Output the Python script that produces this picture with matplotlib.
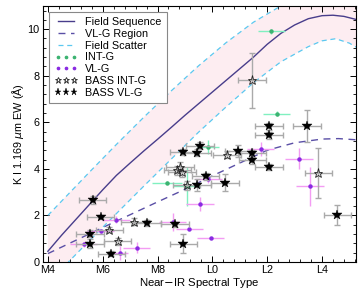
import matplotlib
matplotlib.use("Agg")
import matplotlib.pyplot as plt
from matplotlib.ticker import MultipleLocator

plt.rcParams['font.family'] = ['Liberation Sans', 'DejaVu Sans']

# Field sequence / VL-G region / field scatter
field_x = [4.0, 4.5, 5.0, 5.5, 6.0, 6.5, 7.0, 7.5, 8.0, 8.5, 9.0, 9.5, 10.0,
           10.5, 11.0, 11.5, 12.0, 12.5, 13.0, 13.5, 14.0, 14.4, 14.8, 15.24]
field_y = [0.46, 1.15, 1.8, 2.45, 3.1, 3.72, 4.25, 4.77, 5.27, 5.78, 6.3, 6.8, 7.3,
           7.8, 8.3, 8.8, 9.35, 9.82, 10.18, 10.45, 10.58, 10.6, 10.55, 10.42]

scatter_x = [4.0, 4.75, 5.5, 6.5, 7.5, 8.5, 9.5, 10.5, 11.5, 12.5, 13.5, 14.0, 14.5, 15.0, 15.24]
upper_y = [2.0, 2.92, 3.84, 5.05, 6.22, 7.35, 8.43, 9.42, 10.3, 11.0, 11.6, 11.8, 11.9, 11.9, 11.85]
lower_y = [-0.9, 0.0, 0.9, 2.08, 3.26, 4.42, 5.58, 6.66, 7.7, 8.6, 9.25, 9.5, 9.59, 9.4, 9.23]

vlg_x = [4.0, 5.0, 6.0, 7.0, 8.0, 9.0, 10.0, 11.0, 12.0, 13.0, 14.0, 14.6, 15.24]
vlg_y = [0.36, 0.92, 1.48, 2.03, 2.58, 3.12, 3.7, 4.25, 4.8, 5.12, 5.28, 5.3, 5.25]

# INT-G (literature)
intg_x = [8.35, 9.06, 9.85, 12.35, 12.15]
intg_y = [3.41, 3.25, 4.95, 6.37, 9.91]
intg_xe = [0.55, 0.5, 0.4, 0.5, 0.5]
intg_ye = [0.05, 0.85, 0.3, 0.1, 0.1]

# VL-G (literature)
vl_x = [6.48, 5.93, 5.3, 6.63, 7.24, 8.55, 9.16, 9.94, 9.55, 9.85, 11.76, 13.16, 13.56]
vl_y = [1.82, 1.32, 0.76, 0.4, 0.62, 1.72, 1.42, 1.03, 2.5, 3.55, 4.84, 4.44, 3.25]
vl_xe = [0.5, 0.5, 0.5, 0.3, 0.5, 0.5, 0.5, 0.5, 0.5, 0.5, 0.5, 0.5, 0.5]
vl_ye = [0.15, 0.1, 0.1, 0.3, 0.25, 0.4, 0.05, 0.05, 0.3, 0.15, 0.3, 0.45, 0.85]

# BASS INT-G
bi_x = [7.15, 6.24, 6.54, 10.54, 8.82, 8.72, 8.9, 9.06, 11.45, 13.87]
bi_y = [1.72, 1.39, 0.9, 4.61, 4.08, 3.93, 3.86, 3.29, 7.8, 3.82]
bi_xe = [0.5] * 10
bi_ye = [0.15, 0.1, 0.15, 0.15, 0.2, 0.2, 0.2, 0.2, 1.18, 1.07]

# BASS VL-G
bv_x = [5.63, 5.93, 7.62, 5.53, 5.53, 6.32, 8.63, 8.94, 9.55, 8.94, 9.45,
        10.95, 9.75, 9.45, 10.46, 12.07, 12.07, 13.46, 11.46, 11.46, 12.07, 14.56]
bv_y = [2.68, 1.93, 1.68, 1.22, 0.79, 0.36, 1.62, 0.79, 5.0, 4.72, 4.69,
        4.76, 3.69, 3.32, 3.41, 5.84, 5.44, 5.84, 4.68, 4.36, 4.08, 2.0]
bv_xe = [0.5] * 22
bv_ye = [0.17, 0.1, 0.12, 0.15, 0.2, 0.12, 0.1, 0.4, 0.15, 0.12, 0.15,
         0.25, 0.15, 0.25, 0.35, 0.15, 0.15, 0.7, 0.15, 0.15, 0.15, 0.43]

tick_pos = [4, 6, 8, 10, 12, 14]
tick_lab = ['M4', 'M6', 'M8', 'L0', 'L2', 'L4']

fig = plt.figure(figsize=(3.64, 2.91), dpi=100)
ax = fig.add_axes([0.118, 0.0997, 0.860, 0.880])

# shaded field scatter band
ax.fill_between(scatter_x, lower_y, upper_y, color='#fdedf1', lw=0, zorder=0)
ax.plot(field_x, field_y, color='#483d8b', lw=1.0, label='Field Sequence', zorder=2)
ax.plot(vlg_x, vlg_y, color='#5a4fa6', lw=1.0, ls=(0, (5, 4)), label='VL-G Region', zorder=2)
ax.plot(scatter_x, upper_y, color='#5bc8f0', lw=0.9, ls=(0, (4, 3)), label='Field Scatter', zorder=2)
ax.plot(scatter_x, lower_y, color='#5bc8f0', lw=0.9, ls=(0, (4, 3)), zorder=2)

ax.errorbar(intg_x, intg_y, xerr=intg_xe, yerr=intg_ye, fmt='none',
            ecolor='#80f0c0', elinewidth=1.0, capsize=0, zorder=3)
ax.plot(intg_x, intg_y, ls='none', marker='o', ms=2.2, color='#3cb371', label='INT-G', zorder=4)

ax.errorbar(vl_x, vl_y, xerr=vl_xe, yerr=vl_ye, fmt='none',
            ecolor='#f39cf3', elinewidth=1.0, capsize=0, zorder=3)
ax.plot(vl_x, vl_y, ls='none', marker='o', ms=2.2, color='#8a2be2', label='VL-G', zorder=4)

ax.errorbar(bi_x, bi_y, xerr=bi_xe, yerr=bi_ye, fmt='none',
            ecolor='#aaaaaa', elinewidth=1.0, capsize=2.2, capthick=1.0, zorder=5)
ax.plot(bi_x, bi_y, ls='none', marker='*', ms=6.5, mfc='none', mec='#222222', mew=0.6,
        label='BASS INT-G', zorder=6)

ax.errorbar(bv_x, bv_y, xerr=bv_xe, yerr=bv_ye, fmt='none',
            ecolor='#aaaaaa', elinewidth=1.0, capsize=2.2, capthick=1.0, zorder=5)
ax.plot(bv_x, bv_y, ls='none', marker='*', ms=7, color='black', mew=0.3,
        label='BASS VL-G', zorder=6)

ax.set_xlim(3.82, 15.24)
ax.set_ylim(0, 11)
ax.set_xticks(tick_pos)
ax.set_xticklabels(tick_lab)
ax.set_yticks([0, 2, 4, 6, 8, 10])
ax.xaxis.set_minor_locator(MultipleLocator(0.4))
ax.yaxis.set_minor_locator(MultipleLocator(0.4))
ax.tick_params(which='both', direction='in', top=True, right=True, labelsize=7.8, pad=2.5)
ax.tick_params(which='major', length=4.5, width=0.7)
ax.tick_params(which='minor', length=2.2, width=0.6)
for s in ax.spines.values():
    s.set_linewidth(0.8)

ax.set_xlabel('Near$-$IR Spectral Type', fontsize=8.2, labelpad=0.5)
ax.set_ylabel('K I 1.169 $\\mu$m EW (Å)', fontsize=7.8, labelpad=1)

leg = ax.legend(loc='upper left', fontsize=7.8, numpoints=3, handlelength=2.1,
                handletextpad=0.75, labelspacing=0.16, borderpad=0.5,
                borderaxespad=0.55, fancybox=False, framealpha=1, markerscale=0.75)
leg.get_frame().set_edgecolor('#888888')
leg.get_frame().set_linewidth(0.8)

fig.savefig('out.png', dpi=100)
